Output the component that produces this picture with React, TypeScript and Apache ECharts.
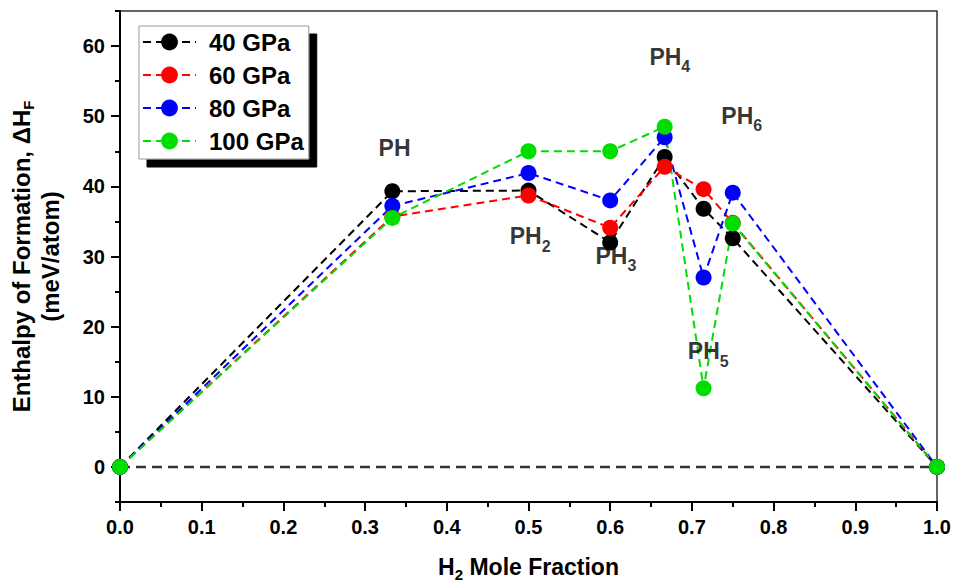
import React, { useEffect, useRef } from "react";
import * as echarts from "echarts";

const xFractions = [0, 1 / 3, 1 / 2, 3 / 5, 2 / 3, 5 / 7, 3 / 4, 1];
const seriesNames = ["40 GPa", "60 GPa", "80 GPa", "100 GPa"];
const gpa40 = [0, 39.3, 39.4, 32.0, 44.2, 36.8, 32.6, 0];
const gpa60 = [0, 35.7, 38.7, 34.1, 42.8, 39.6, 34.8, 0];
const gpa80 = [0, 37.2, 41.9, 38.0, 47.0, 27.0, 39.1, 0];
const gpa100 = [0, 35.5, 45.0, 45.0, 48.5, 11.2, 34.7, 0];
const seriesColors = ["#000000", "#ff0000", "#0000ff", "#00dd00"];

const phaseNames = ["PH", "PH", "PH", "PH", "PH", "PH"];
const phaseSubs = ["", "2", "3", "4", "5", "6"];
const phaseLabelX = [0.336, 0.502, 0.607, 0.673, 0.72, 0.761];
const phaseLabelY = [45.4, 32.9, 30.1, 58.5, 16.5, 50.1];

const yMajorTicks = [0, 10, 20, 30, 40, 50, 60];

const FONT = "'Liberation Sans', Arial, Helvetica, sans-serif";

export default function App() {
  const ref = useRef<HTMLDivElement>(null);
  useEffect(() => {
    if (!ref.current) return;
    const chart = echarts.init(ref.current, null, { renderer: "svg" });
    const allValues = [gpa40, gpa60, gpa80, gpa100];
    const dataSeries = allValues.map((vals, i) => ({
      name: seriesNames[i],
      type: "line",
      data: vals.map((v, j) => [xFractions[j], v]),
      symbol: "circle",
      symbolSize: 16,
      showSymbol: true,
      clip: false,
      itemStyle: { color: seriesColors[i] },
      lineStyle: { color: seriesColors[i], width: 2, type: [8, 5] },
      emphasis: { disabled: true },
      z: 3,
    }));
    const option: any = {
      animation: false,
      textStyle: { fontFamily: FONT },
      grid: {
        left: 120,
        right: 18,
        top: 11,
        bottom: 81,
        show: true,
        borderColor: "#333",
        borderWidth: 1.5,
        backgroundColor: "transparent",
        containLabel: false,
        outerBoundsMode: "none",
      },
      legend: {
        orient: "vertical",
        left: 139,
        top: 26,
        padding: [4, 5, 6, 3],
        itemWidth: 53,
        itemHeight: 21,
        itemGap: 9,
        data: seriesNames,
        backgroundColor: "#ffffff",
        borderColor: "#999",
        borderWidth: 1,
        shadowColor: "#000",
        shadowBlur: 0,
        shadowOffsetX: 8,
        shadowOffsetY: 8,
        textStyle: {
          fontFamily: FONT,
          fontSize: 24,
          fontWeight: "bold",
          color: "#000",
          padding: [0, 0, 0, 8],
        },
      },
      xAxis: {
        type: "value",
        min: 0,
        max: 1,
        interval: 0.1,
        name: "{b|H}{s|2}{b| Mole Fraction}",
        nameLocation: "middle",
        nameGap: 50,
        nameTextStyle: {
          rich: {
            b: { fontFamily: FONT, fontSize: 23, fontWeight: "bold", color: "#000", lineHeight: 30 },
            s: { fontFamily: FONT, fontSize: 15, fontWeight: "bold", color: "#000", verticalAlign: "bottom" },
          },
        },
        axisLine: { show: true, onZero: false, lineStyle: { color: "#000", width: 2 } },
        axisTick: { show: true, inside: false, length: 9, lineStyle: { color: "#000", width: 2 } },
        minorTick: { show: true, splitNumber: 2, length: 5, lineStyle: { color: "#000", width: 2 } },
        axisLabel: {
          margin: 15,
          fontFamily: FONT,
          fontSize: 20,
          fontWeight: "bold",
          color: "#000",
          formatter: (v: number) => v.toFixed(1),
        },
        splitLine: { show: false },
      },
      yAxis: [
        {
          type: "value",
          min: -5,
          max: 65,
          interval: 5,
          name: "Enthalpy of Formation, ΔH{s|F}\n(meV/atom)",
          nameLocation: "middle",
          nameGap: 55,
          nameTextStyle: {
            fontFamily: FONT,
            fontSize: 24,
            fontWeight: "bold",
            color: "#000",
            lineHeight: 29,
            rich: {
              s: { fontFamily: FONT, fontSize: 15, fontWeight: "bold", color: "#000", verticalAlign: "bottom" },
            },
          },
          axisLine: { show: true, onZero: false, lineStyle: { color: "#000", width: 2 } },
          axisTick: { show: true, inside: false, length: 5, lineStyle: { color: "#000", width: 2 } },
          axisLabel: {
            margin: 15,
            fontFamily: FONT,
            fontSize: 20,
            fontWeight: "bold",
            color: "#000",
            formatter: (v: number) => (Math.round(v) % 10 === 0 ? String(v) : ""),
          },
          splitLine: { show: false },
        },
        {
          type: "value",
          min: -5,
          max: 65,
          interval: 5,
          position: "left",
          axisLine: { show: false },
          axisTick: {
            show: true,
            inside: false,
            length: 9,
            customValues: yMajorTicks,
            lineStyle: { color: "#000", width: 2 },
          },
          axisLabel: { show: false },
          splitLine: { show: false },
        },
      ],
      series: [
        {
          name: "zero",
          type: "line",
          data: [
            [0, 0],
            [1, 0],
          ],
          symbol: "none",
          silent: true,
          lineStyle: { color: "#333", width: 2.5, type: [10, 6] },
          z: 2,
        },
        ...dataSeries,
        {
          name: "phases",
          type: "scatter",
          symbolSize: 0,
          silent: true,
          z: 5,
          data: phaseNames.map((n, i) => ({
            value: [phaseLabelX[i], phaseLabelY[i]],
            label: {
              formatter: phaseSubs[i] ? `{b|${n}}{s|${phaseSubs[i]}}` : `{b|${n}}`,
            },
          })),
          label: {
            show: true,
            position: "inside",
            align: "center",
            verticalAlign: "middle",
            rich: {
              b: { fontFamily: FONT, fontSize: 23, fontWeight: "bold", color: "#000", lineHeight: 36 },
              s: { fontFamily: FONT, fontSize: 16, fontWeight: "bold", color: "#000", verticalAlign: "bottom" },
            },
          },
        },
      ],
    };
    chart.setOption(option);
    return () => chart.dispose();
  }, []);
  return (
    <div
      ref={ref}
      style={{ position: "fixed", left: 0, top: 0, width: 955, height: 583, background: "#fff" }}
    />
  );
}
